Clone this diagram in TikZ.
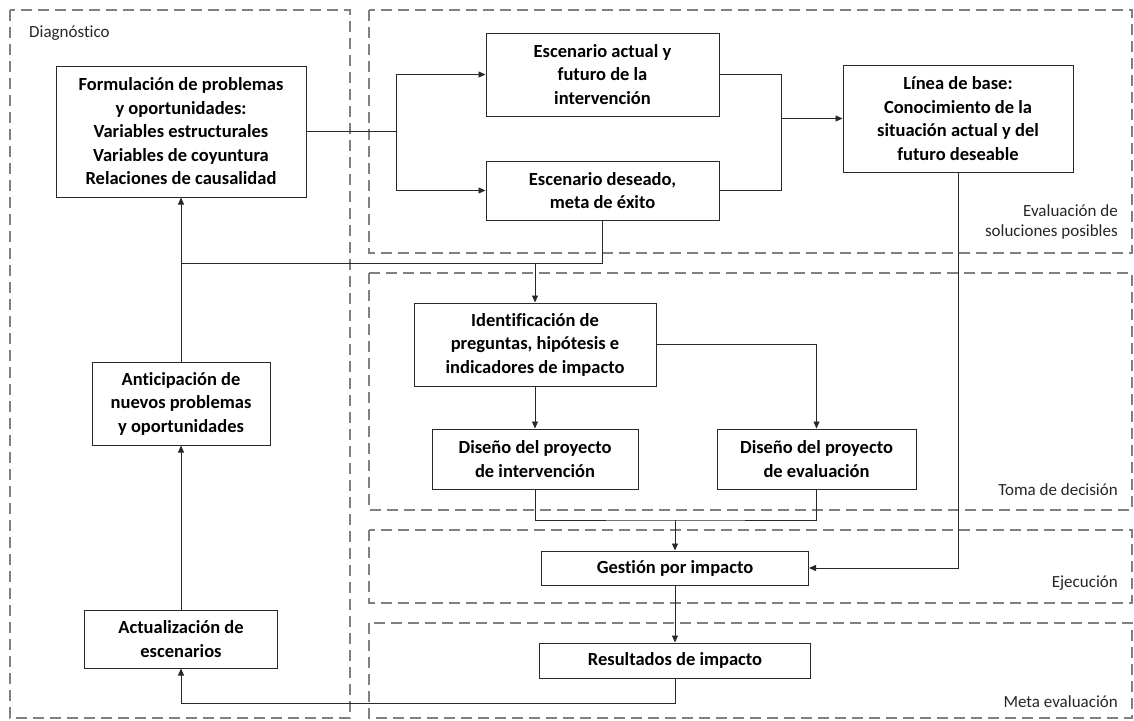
\documentclass[tikz,border=0pt]{standalone}
\usepackage{fontspec}
\setmainfont{Carlito}[Ligatures=CommonOff]
\usetikzlibrary{arrows.meta}

\definecolor{zonegray}{RGB}{128,128,128}
\definecolor{linegray}{RGB}{40,40,40}

\tikzset{
  box/.style={draw=linegray, line width=1pt, align=center, inner sep=0pt,
    font=\fontsize{18.5}{23.5}\selectfont\bfseries},
  zone/.style={draw=zonegray, line width=1.3pt, dash pattern=on 11pt off 6pt},
  zonelabel/.style={inner sep=0pt, text=black!85, font=\fontsize{17}{20}\selectfont},
  link/.style={draw=linegray, line width=0.9pt},
  arrow/.style={link, -{Triangle[length=7pt,width=6pt]}}
}

\begin{document}
\begin{tikzpicture}[x=1pt,y=-1pt]
\useasboundingbox (0,0) rectangle (1134,720);

% zones
\draw[zone] (10,10) rectangle (350,718);
\draw[zone] (369,10) rectangle (1132,253);
\draw[zone] (369,273) rectangle (1132,510);
\draw[zone] (369,530) rectangle (1132,603);
\draw[zone] (369,623) rectangle (1132,718);

\node[zonelabel, anchor=base west] (diaglbl) at (29,37) {Diagnóstico};
\node[zonelabel, anchor=east, align=right] (evallbl) at (1118,222) {Evaluación de\\soluciones posibles};
\node[zonelabel, anchor=east] (tomalbl) at (1118,490) {Toma de decisión};
\node[zonelabel, anchor=east] (ejeclbl) at (1118,583) {Ejecución};
\node[zonelabel, anchor=east] (metalbl) at (1118,702) {Meta evaluación};

% boxes
\node[box, minimum width=250pt, minimum height=131pt] (form) at (181,131.5)
  {Formulación de problemas\\y oportunidades:\\Variables estructurales\\Variables de coyuntura\\Relaciones de causalidad};
\node[box, minimum width=233pt, minimum height=83pt] (actual) at (602.5,74.5)
  {Escenario actual y\\futuro de la\\intervención};
\node[box, minimum width=233pt, minimum height=59pt] (deseado) at (602.5,190.5)
  {Escenario deseado,\\meta de éxito};
\node[box, minimum width=230pt, minimum height=107pt] (base) at (958,118.5)
  {Línea de base:\\Conocimiento de la\\situación actual y del\\futuro deseable};
\node[box, minimum width=242pt, minimum height=83pt] (ident) at (535,344.5)
  {Identificación de\\preguntas, hipótesis e\\indicadores de impacto};
\node[box, minimum width=206pt, minimum height=60pt] (dint) at (535,459)
  {Diseño del proyecto\\de intervención};
\node[box, minimum width=199pt, minimum height=60pt] (deval) at (816.5,459)
  {Diseño del proyecto\\de evaluación};
\node[box, minimum width=267pt, minimum height=34pt] (gest) at (675,568)
  {Gestión por impacto};
\node[box, minimum width=271pt, minimum height=35pt] (res) at (675,660.5)
  {Resultados de impacto};
\node[box, minimum width=178pt, minimum height=83pt] (anti) at (181,403.5)
  {Anticipación de\\nuevos problemas\\y oportunidades};
\node[box, minimum width=193pt, minimum height=58pt] (actz) at (181,639)
  {Actualización de\\escenarios};

% junctions
\coordinate (split) at (396,131.5);
\coordinate (merge) at (781,118.5);
\coordinate (fork) at (535,263.5);
\coordinate (join) at (675,520);

% connectors
\draw[link] (form.east) -- (split);
\draw[arrow] (split) |- (actual.west);
\draw[arrow] (split) |- (deseado.west);
\draw[link] (actual.east) -| (merge) |- (deseado.east);
\draw[arrow] (merge) -- (base.west);
\draw[link] (deseado.south) |- (fork);
\draw[link] (fork) -- (anti.north |- fork);
\draw[arrow] (fork) -- (ident.north);
\draw[arrow] (anti.north) -- (form.south);
\draw[arrow] (ident.south) -- (dint.north);
\draw[arrow] (ident.east) -| (deval.north);
\draw[link] (dint.south) |- (join) -| (deval.south);
\draw[arrow] (join) -- (gest.north);
\draw[arrow] (base.south) |- (gest.east);
\draw[arrow] (gest.south) -- (res.north);
\draw[arrow] (res.south) -- ++(0,25) -| (actz.south);
\draw[arrow] (actz.north) -- (anti.south);

\end{tikzpicture}
\end{document}
